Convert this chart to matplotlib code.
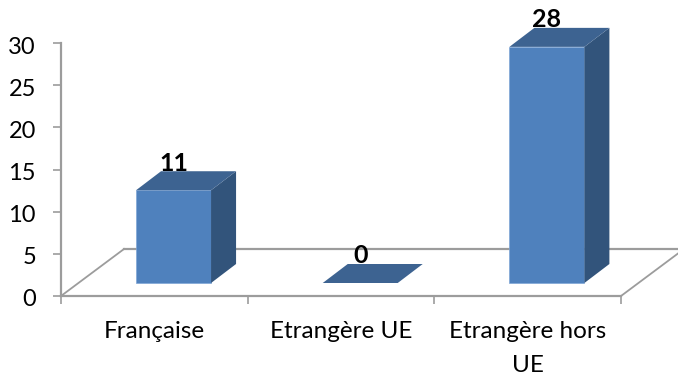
import matplotlib
matplotlib.use("Agg")
import matplotlib.pyplot as plt
from matplotlib.transforms import ScaledTranslation

plt.rcParams['font.family'] = ['Lato', 'DejaVu Sans']

categories = ["Française", "Etrangère UE", "Etrangère hors\nUE"]
values = [11, 0, 28]
yticks = [0, 5, 10, 15, 20, 25, 30]

W, H = 678, 378
FRONT = "#4F81BD"
TOP = "#3D6391"
SIDE = "#32547B"
GRID = "#9C9C9C"

fig = plt.figure(figsize=(W / 100, H / 100), dpi=100)
# axes box runs from the origin corner to the top of the value axis
ax = fig.add_axes([61 / W, (H - 296) / H, 560 / W, 253 / H])
ax.set_xlim(0, 3)
ax.set_ylim(0, 30)

# 3d look: pixel depth converted into data units
px_x = 3 / 560
px_y = 30 / 253
dx, dy = 25 * px_x, 19 * px_y
floor_dx, floor_dy = 63 * px_x, 47 * px_y
base = 13 * px_y
width = 75 * px_x
shift = 0.103

# floor outline
ax.plot([0, floor_dx], [0, floor_dy], color=GRID, lw=1.3, zorder=1, clip_on=False)
ax.plot([floor_dx, 3 + floor_dx], [floor_dy, floor_dy], color=GRID, lw=1.6, zorder=1, clip_on=False)
ax.plot([3, 3 + floor_dx], [0, floor_dy], color=GRID, lw=1.3, zorder=1, clip_on=False)

for i, v in enumerate(values):
    x0 = i + shift + 0.5 - width / 2
    x1 = x0 + width
    y0 = base
    y1 = base + v
    if v > 0:
        ax.bar(x0, v, width=width, bottom=base, align="edge", color=FRONT,
               edgecolor="#7FA6D6", linewidth=0.5, zorder=3)
        ax.fill([x1, x1 + dx, x1 + dx, x1], [y0, y0 + dy, y1 + dy, y1],
                color=SIDE, lw=0, zorder=3, clip_on=False)
    ax.fill([x0, x1, x1 + dx, x0 + dx], [y1, y1, y1 + dy, y1 + dy],
            color=TOP, lw=0, zorder=3, clip_on=False)
    ax.annotate(str(v), (x0 + width / 2, y1 + dy), xytext=(0, 5.8), textcoords="offset points",
                ha="center", va="center", fontsize=18, fontweight="bold",
                color="black", zorder=5, annotation_clip=False)

for side in ["top", "right"]:
    ax.spines[side].set_visible(False)
for side in ["left", "bottom"]:
    ax.spines[side].set_color(GRID)
    ax.spines[side].set_linewidth(1.6)

ax.set_yticks(yticks)
ax.tick_params(axis="y", length=6, width=1.2, color=GRID, labelsize=17, pad=12, labelcolor="black")
# value labels sit a little below their ticks
nudge = ScaledTranslation(0, -2 / 100, fig.dpi_scale_trans)
for label in ax.get_yticklabels():
    label.set_transform(label.get_transform() + nudge)

ax.set_xticks([0, 1, 2, 3])
ax.set_xticklabels([])
ax.tick_params(axis="x", which="major", length=6, width=1.2, color=GRID)
ax.set_xticks([0.5, 1.5, 2.5], minor=True)
ax.set_xticklabels(categories, minor=True, fontsize=17.5, linespacing=1.78, color="black")
ax.tick_params(axis="x", which="minor", length=0, pad=18)

fig.savefig("out.png", dpi=100)
